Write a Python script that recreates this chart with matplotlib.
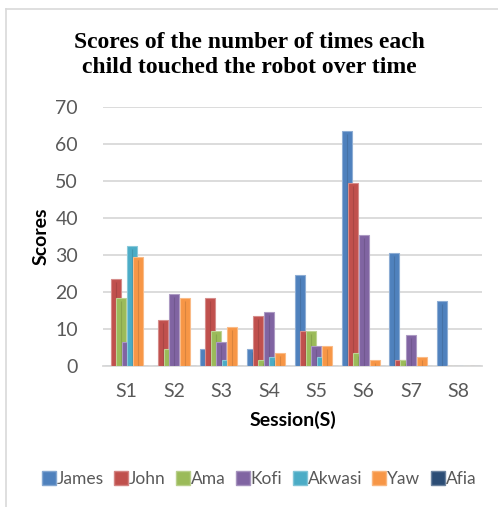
import matplotlib
matplotlib.use("Agg")
import matplotlib.pyplot as plt
from matplotlib.lines import Line2D
from matplotlib.colors import to_rgb
import numpy as np

sessions = ["S1", "S2", "S3", "S4", "S5", "S6", "S7", "S8"]
children = ["James", "John", "Ama", "Kofi", "Akwasi", "Yaw", "Afia"]

james = [0, 0, 4.5, 4.5, 24.5, 63.5, 30.5, 17.5]
john = [23.5, 12.5, 18.5, 13.5, 9.5, 49.5, 1.5, 0]
ama = [18.5, 4.5, 9.5, 1.5, 9.5, 3.5, 1.5, 0]
kofi = [6.5, 19.5, 6.5, 14.5, 5.5, 35.5, 8.5, 0]
akwasi = [32.5, 0, 1.5, 2.5, 2.5, 0, 0, 0]
yaw = [29.5, 18.5, 10.5, 3.5, 5.5, 1.5, 2.5, 0]
afia = [0, 0, 0, 0, 0, 0, 0, 0]

series = [james, john, ama, kofi, akwasi, yaw, afia]
colors = ["#4F81BD", "#C0504D", "#9BBB59", "#8064A2", "#4BACC6", "#F79646", "#2C4D75"]

W, H = 498, 507
fig = plt.figure(figsize=(W / 100, H / 100), dpi=100)
fig.patch.set_facecolor("white")

# chart frame (top and left edges)
fig.add_artist(Line2D([6 / W, 6 / W], [0, 1 - 9 / H], color="#D9D9D9", lw=1.2))
fig.add_artist(Line2D([6 / W, 1], [1 - 9 / H, 1 - 9 / H], color="#D9D9D9", lw=1.2))

left, right, bottom, top = 103 / W, 482 / W, 1 - 366 / H, 1 - 107 / H
ax = fig.add_axes([left, bottom, right - left, top - bottom])

x = np.arange(len(sessions))
px_per_unit = 47.4
bar_w = 10 / px_per_unit
step = 5.5 / px_per_unit


def lighten(c, f):
    r, g, b = to_rgb(c)
    return (r + (1 - r) * f, g + (1 - g) * f, b + (1 - b) * f)


def darken(c, f):
    r, g, b = to_rgb(c)
    return (r * f, g * f, b * f)


for i, (vals, col) in enumerate(zip(series, colors)):
    xs = x + (i - 3) * step
    ax.bar(xs, vals, width=bar_w, color=col, edgecolor=lighten(col, 0.35),
           linewidth=0.8, zorder=3 + i)
    v = np.array(vals, dtype=float)
    m = v > 1.0
    ax.vlines(xs[m], 0, v[m] - 0.8, colors=[darken(col, 0.88)], linewidth=0.8,
              zorder=3 + i + 0.5)

ax.set_xlim(-0.5, len(sessions) - 0.5)
ax.set_ylim(0, 70)
ax.set_yticks(np.arange(0, 71, 10))
ax.set_xticks(x)
ax.set_xticklabels(sessions)
ax.yaxis.grid(True, color="#D9D9D9", linewidth=1.3, zorder=0)
ax.set_axisbelow(True)
for s in ["top", "right", "left"]:
    ax.spines[s].set_visible(False)
ax.spines["bottom"].set_color("#D9D9D9")
ax.spines["bottom"].set_linewidth(1.3)
ax.tick_params(axis="both", length=0, labelsize=14, labelcolor="#595959")
ax.tick_params(axis="y", pad=18)
ax.tick_params(axis="x", pad=12)
for lbl in ax.get_xticklabels() + ax.get_yticklabels():
    lbl.set_family("Lato")

ax.set_ylabel("Scores", fontsize=14, fontweight="bold", family="Lato", labelpad=4)
ax.set_xlabel("Session(S)", fontsize=14, fontweight="bold", family="Lato", labelpad=8)

fig.text(0.5, 1 - 55 / H, "Scores of the number of times each\nchild touched the robot over time",
         ha="center", va="center", fontsize=17, fontweight="bold",
         family="Liberation Serif", linespacing=1.25)

handles = [Line2D([], [], marker="s", linestyle="none", markersize=10.5,
                  markerfacecolor=c, markeredgecolor=lighten(c, 0.3))
           for c in colors]
fig.legend(handles, children, loc="center", bbox_to_anchor=(0.52, 1 - 479 / H),
           ncol=7, frameon=False, handletextpad=0.05, columnspacing=0.6,
           handlelength=0.8, prop={"family": "Lato", "size": 12.5},
           labelcolor="#595959")

fig.savefig("out.png", dpi=100)
